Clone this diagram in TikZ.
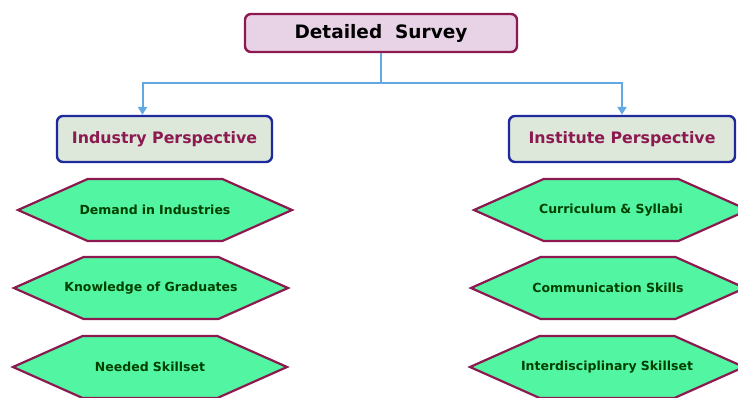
\documentclass[tikz,border=0pt]{standalone}
\usepackage{fontspec}
\setmainfont{DejaVu Sans}
\usetikzlibrary{arrows.meta, positioning, shapes.symbols}
\usepackage{xcolor}
\definecolor{cMaroon}{HTML}{8C1A50}
\definecolor{cPink}{HTML}{E8D3E6}
\definecolor{cNavy}{HTML}{1E2A9C}
\definecolor{cSage}{HTML}{DDE7DA}
\definecolor{cMint}{HTML}{52F5A2}
\definecolor{cSky}{HTML}{62A8E2}

\begin{document}
\begin{tikzpicture}[
  x=1pt, y=-1pt,
  box/.style={rectangle, rounded corners=6pt, line width=2.4pt, align=center},
  survey/.style={box, fill=cPink, draw=cMaroon, minimum width=272pt,
                 minimum height=38pt, font=\bfseries\fontsize{18.5}{22}\selectfont},
  persp/.style={box, fill=cSage, draw=cNavy, minimum height=46pt, text=cMaroon,
                font=\bfseries\fontsize{15.8}{19}\selectfont},
  hexbox/.style={signal, signal to=west and east, signal pointer angle=48,
                 fill=cMint, draw=cMaroon, line width=2.2pt, minimum width=274pt,
                 minimum height=62pt, inner sep=0pt, text width=124pt, align=center,
                 text=black!75!green, font=\bfseries\fontsize{12.5}{15}\selectfont},
  arr/.style={-{Triangle[length=8pt, width=9pt]}, line width=2pt, color=cSky},
]
\useasboundingbox (0,0) rectangle (738,397);

\node[survey] (survey) at (381,33) {Detailed\ \ Survey};
\node[persp, minimum width=215pt] (industry)  at (164.5,139) {Industry Perspective};
\node[persp, minimum width=226pt] (institute) at (622,139)   {Institute Perspective};

% industry side
\node[hexbox] (demand)    at (155,210) {\makebox[0pt]{Demand in Industries}};
\node[hexbox] (knowledge) at (151,288) {\makebox[0pt]{Knowledge of Graduates}};
\node[hexbox] (needed)    at (150,367) {\makebox[0pt]{Needed Skillset}};
% institute side
\node[hexbox] (curriculum) at (611,210) {\makebox[0pt]{Curriculum \& Syllabi}};
\node[hexbox] (comm)       at (608,288) {\makebox[0pt]{Communication Skills}};
\node[hexbox] (interdisc)  at (607,367) {\makebox[0pt]{Interdisciplinary Skillset}};

\coordinate (split) at (survey.south |- 0,83);
\draw[arr] (survey.south) -- (split) -| ([xshift=-22pt]industry.north);
\draw[arr] (split) -| (institute.north);
\end{tikzpicture}
\end{document}
